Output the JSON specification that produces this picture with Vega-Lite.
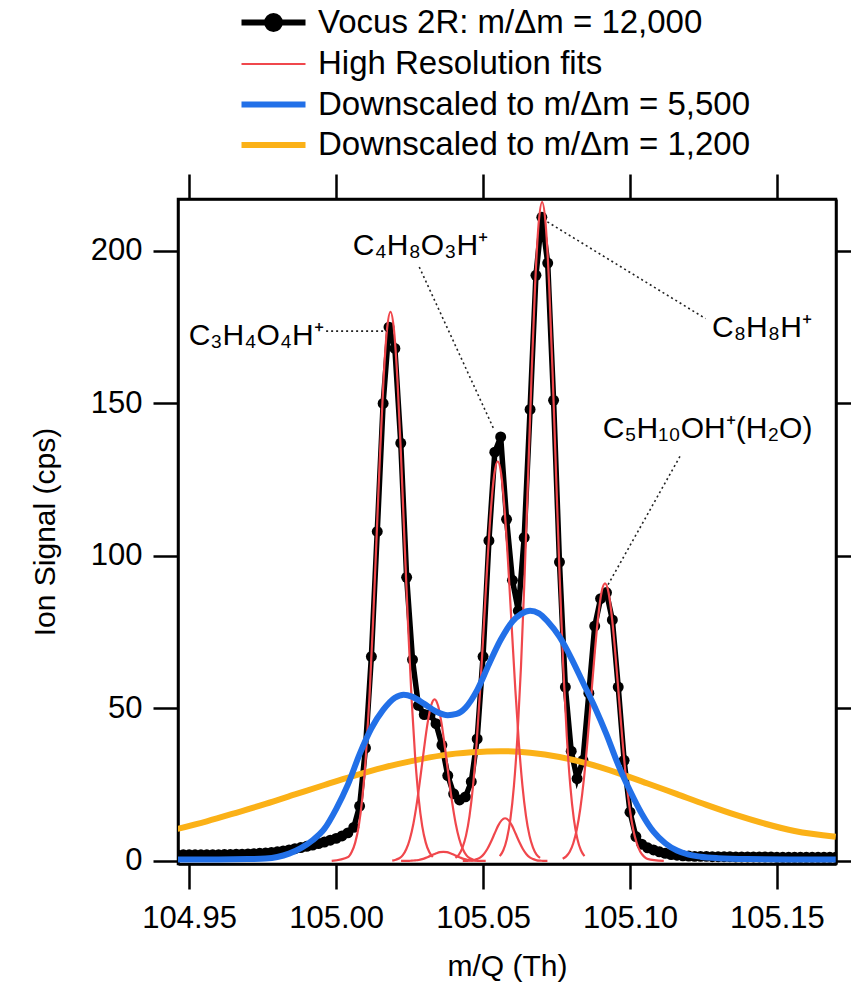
{
  "$schema": "https://vega.github.io/schema/vega-lite/v6.json",
  "width": 658,
  "height": 665,
  "autosize": "none",
  "padding": {"left": 178, "top": 199, "right": 15, "bottom": 127},
  "background": "white",
  "config": {
    "view": {"stroke": "black", "strokeWidth": 2.5},
    "font": "Liberation Sans",
    "axis": {
      "domainColor": "black", "domainWidth": 2.5,
      "tickColor": "black", "tickWidth": 2.5, "tickSize": 25,
      "labelFont": "Liberation Sans", "labelFontSize": 31, "labelColor": "black",
      "titleFont": "Liberation Sans", "titleFontSize": 30, "titleColor": "black", "titleFontWeight": "normal",
      "grid": false
    }
  },
  "datasets": {
    "vocus": [
      {"x":104.946,"y":2.0},{"x":104.948,"y":2.0},{"x":104.950,"y":2.0},{"x":104.952,"y":2.0},{"x":104.954,"y":2.0},
      {"x":104.956,"y":2.0},{"x":104.958,"y":2.0},{"x":104.960,"y":2.0},{"x":104.962,"y":2.1},{"x":104.964,"y":2.1},
      {"x":104.966,"y":2.2},{"x":104.968,"y":2.2},{"x":104.970,"y":2.3},{"x":104.972,"y":2.4},{"x":104.974,"y":2.5},
      {"x":104.976,"y":2.6},{"x":104.978,"y":2.8},{"x":104.980,"y":3.0},{"x":104.982,"y":3.3},{"x":104.984,"y":3.6},
      {"x":104.986,"y":4.0},{"x":104.988,"y":4.4},{"x":104.990,"y":4.8},{"x":104.992,"y":5.2},{"x":104.994,"y":5.7},
      {"x":104.996,"y":6.2},{"x":104.998,"y":6.8},{"x":105.000,"y":7.4},{"x":105.002,"y":8.2},{"x":105.004,"y":9.2},
      {"x":105.006,"y":11},{"x":105.008,"y":18},{"x":105.010,"y":37},{"x":105.012,"y":67},{"x":105.014,"y":108},
      {"x":105.016,"y":150},{"x":105.018,"y":175},{"x":105.020,"y":168},{"x":105.022,"y":137},{"x":105.024,"y":93},
      {"x":105.026,"y":66},{"x":105.028,"y":51},{"x":105.030,"y":48},{"x":105.032,"y":48},{"x":105.034,"y":45},
      {"x":105.036,"y":38},{"x":105.038,"y":28},{"x":105.040,"y":22},{"x":105.042,"y":20},{"x":105.044,"y":21},
      {"x":105.046,"y":26},{"x":105.048,"y":40},{"x":105.050,"y":67},{"x":105.052,"y":105},{"x":105.054,"y":134},
      {"x":105.056,"y":139},{"x":105.058,"y":112},{"x":105.060,"y":92},{"x":105.062,"y":82},{"x":105.064,"y":106},
      {"x":105.066,"y":148},{"x":105.068,"y":192},{"x":105.070,"y":211},{"x":105.072,"y":196},{"x":105.074,"y":151},
      {"x":105.076,"y":98},{"x":105.078,"y":57},{"x":105.080,"y":36},{"x":105.082,"y":27},{"x":105.084,"y":33},
      {"x":105.086,"y":55},{"x":105.088,"y":77},{"x":105.090,"y":86},{"x":105.092,"y":88},{"x":105.094,"y":79},
      {"x":105.096,"y":57},{"x":105.098,"y":33},{"x":105.100,"y":16},{"x":105.102,"y":8},{"x":105.104,"y":5.5},
      {"x":105.106,"y":4.3},{"x":105.108,"y":3.6},{"x":105.110,"y":3.0},{"x":105.112,"y":2.5},{"x":105.114,"y":2.1},
      {"x":105.116,"y":1.9},{"x":105.118,"y":1.7},{"x":105.120,"y":1.6},{"x":105.122,"y":1.5},{"x":105.124,"y":1.5},
      {"x":105.126,"y":1.5},{"x":105.128,"y":1.4},{"x":105.130,"y":1.4},{"x":105.132,"y":1.4},{"x":105.134,"y":1.4},
      {"x":105.136,"y":1.3},{"x":105.138,"y":1.3},{"x":105.140,"y":1.3},{"x":105.142,"y":1.3},{"x":105.144,"y":1.3},
      {"x":105.146,"y":1.3},{"x":105.148,"y":1.3},{"x":105.150,"y":1.2},{"x":105.152,"y":1.2},{"x":105.154,"y":1.2},
      {"x":105.156,"y":1.2},{"x":105.158,"y":1.2},{"x":105.160,"y":1.2},{"x":105.162,"y":1.2},{"x":105.164,"y":1.2},
      {"x":105.166,"y":1.2},{"x":105.168,"y":1.2},{"x":105.170,"y":1.2}
    ],
    "fits": [
      {"fit":"a","x":104.9985,"y":0},
      {"fit":"a","x":105.0041,"y":1.3},{"fit":"a","x":105.0053,"y":2.9},{"fit":"a","x":105.0065,"y":6.0},{"fit":"a","x":105.0077,"y":11.4},
      {"fit":"a","x":105.0089,"y":20.4},{"fit":"a","x":105.0101,"y":34.0},{"fit":"a","x":105.0113,"y":52.9},{"fit":"a","x":105.0125,"y":76.9},
      {"fit":"a","x":105.0137,"y":104.4},{"fit":"a","x":105.0149,"y":132.5},{"fit":"a","x":105.0161,"y":157.1},{"fit":"a","x":105.0173,"y":174.0},
      {"fit":"a","x":105.0185,"y":180},{"fit":"a","x":105.0197,"y":174.0},{"fit":"a","x":105.0209,"y":157.1},{"fit":"a","x":105.0221,"y":132.5},
      {"fit":"a","x":105.0233,"y":104.4},{"fit":"a","x":105.0245,"y":76.9},{"fit":"a","x":105.0257,"y":52.9},{"fit":"a","x":105.0269,"y":34.0},
      {"fit":"a","x":105.0281,"y":20.4},{"fit":"a","x":105.0293,"y":11.4},{"fit":"a","x":105.0305,"y":6.0},{"fit":"a","x":105.0317,"y":2.9},
      {"fit":"a","x":105.0329,"y":1.3},
      {"fit":"b","x":105.0191,"y":0.1},{"fit":"b","x":105.0203,"y":0.4},{"fit":"b","x":105.0215,"y":0.9},{"fit":"b","x":105.0227,"y":1.9},
      {"fit":"b","x":105.0239,"y":3.9},{"fit":"b","x":105.0251,"y":7.2},{"fit":"b","x":105.0263,"y":12.2},{"fit":"b","x":105.0275,"y":19.1},
      {"fit":"b","x":105.0287,"y":27.6},{"fit":"b","x":105.0299,"y":36.7},{"fit":"b","x":105.0311,"y":45.0},{"fit":"b","x":105.0323,"y":50.9},
      {"fit":"b","x":105.0335,"y":53},{"fit":"b","x":105.0347,"y":50.9},{"fit":"b","x":105.0359,"y":45.0},{"fit":"b","x":105.0371,"y":36.7},
      {"fit":"b","x":105.0383,"y":27.6},{"fit":"b","x":105.0395,"y":19.1},{"fit":"b","x":105.0407,"y":12.2},{"fit":"b","x":105.0419,"y":7.2},
      {"fit":"b","x":105.0431,"y":3.9},{"fit":"b","x":105.0443,"y":1.9},{"fit":"b","x":105.0455,"y":0.9},{"fit":"b","x":105.0467,"y":0.4},
      {"fit":"b","x":105.0479,"y":0.1},
      {"fit":"c","x":105.0221,"y":0},{"fit":"c","x":105.0233,"y":0},{"fit":"c","x":105.0245,"y":0},{"fit":"c","x":105.0257,"y":0.1},
      {"fit":"c","x":105.0269,"y":0.2},{"fit":"c","x":105.0281,"y":0.3},{"fit":"c","x":105.0293,"y":0.6},{"fit":"c","x":105.0305,"y":1.0},
      {"fit":"c","x":105.0317,"y":1.5},{"fit":"c","x":105.0329,"y":2.0},{"fit":"c","x":105.0341,"y":2.5},{"fit":"c","x":105.0353,"y":2.9},
      {"fit":"c","x":105.0365,"y":3},{"fit":"c","x":105.0377,"y":2.9},{"fit":"c","x":105.0389,"y":2.5},{"fit":"c","x":105.0401,"y":2.0},
      {"fit":"c","x":105.0413,"y":1.5},{"fit":"c","x":105.0425,"y":1.0},{"fit":"c","x":105.0437,"y":0.6},{"fit":"c","x":105.0449,"y":0.3},
      {"fit":"c","x":105.0461,"y":0.2},{"fit":"c","x":105.0473,"y":0.1},{"fit":"c","x":105.0485,"y":0},{"fit":"c","x":105.0497,"y":0},
      {"fit":"c","x":105.0509,"y":0},
      {"fit":"d","x":105.0406,"y":1.0},{"fit":"d","x":105.0418,"y":2.1},{"fit":"d","x":105.0430,"y":4.4},{"fit":"d","x":105.0442,"y":8.3},
      {"fit":"d","x":105.0454,"y":14.8},{"fit":"d","x":105.0466,"y":24.7},{"fit":"d","x":105.0478,"y":38.5},{"fit":"d","x":105.0490,"y":56.0},
      {"fit":"d","x":105.0502,"y":76.0},{"fit":"d","x":105.0514,"y":96.4},{"fit":"d","x":105.0526,"y":114.3},{"fit":"d","x":105.0538,"y":126.6},
      {"fit":"d","x":105.0550,"y":131},{"fit":"d","x":105.0562,"y":126.6},{"fit":"d","x":105.0574,"y":114.3},{"fit":"d","x":105.0586,"y":96.4},
      {"fit":"d","x":105.0598,"y":76.0},{"fit":"d","x":105.0610,"y":56.0},{"fit":"d","x":105.0622,"y":38.5},{"fit":"d","x":105.0634,"y":24.7},
      {"fit":"d","x":105.0646,"y":14.8},{"fit":"d","x":105.0658,"y":8.3},{"fit":"d","x":105.0670,"y":4.4},{"fit":"d","x":105.0682,"y":2.1},
      {"fit":"d","x":105.0694,"y":1.0},
      {"fit":"e","x":105.0431,"y":0},{"fit":"e","x":105.0443,"y":0},{"fit":"e","x":105.0455,"y":0.1},{"fit":"e","x":105.0467,"y":0.2},
      {"fit":"e","x":105.0479,"y":0.6},{"fit":"e","x":105.0491,"y":1.2},{"fit":"e","x":105.0503,"y":2.3},{"fit":"e","x":105.0515,"y":4.0},
      {"fit":"e","x":105.0527,"y":6.3},{"fit":"e","x":105.0539,"y":8.9},{"fit":"e","x":105.0551,"y":11.5},{"fit":"e","x":105.0563,"y":13.3},
      {"fit":"e","x":105.0575,"y":14},{"fit":"e","x":105.0587,"y":13.3},{"fit":"e","x":105.0599,"y":11.5},{"fit":"e","x":105.0611,"y":8.9},
      {"fit":"e","x":105.0623,"y":6.3},{"fit":"e","x":105.0635,"y":4.0},{"fit":"e","x":105.0647,"y":2.3},{"fit":"e","x":105.0659,"y":1.2},
      {"fit":"e","x":105.0671,"y":0.6},{"fit":"e","x":105.0683,"y":0.2},{"fit":"e","x":105.0695,"y":0.1},{"fit":"e","x":105.0707,"y":0},
      {"fit":"e","x":105.0719,"y":0},
      {"fit":"f","x":105.0557,"y":1.6},{"fit":"f","x":105.0569,"y":3.5},{"fit":"f","x":105.0581,"y":7.2},{"fit":"f","x":105.0593,"y":13.7},
      {"fit":"f","x":105.0605,"y":24.5},{"fit":"f","x":105.0617,"y":40.8},{"fit":"f","x":105.0629,"y":63.5},{"fit":"f","x":105.0641,"y":92.3},
      {"fit":"f","x":105.0653,"y":125.3},{"fit":"f","x":105.0665,"y":159.0},{"fit":"f","x":105.0677,"y":188.5},{"fit":"f","x":105.0689,"y":208.8},
      {"fit":"f","x":105.0701,"y":216},{"fit":"f","x":105.0713,"y":208.8},{"fit":"f","x":105.0725,"y":188.5},{"fit":"f","x":105.0737,"y":159.0},
      {"fit":"f","x":105.0749,"y":125.3},{"fit":"f","x":105.0761,"y":92.3},{"fit":"f","x":105.0773,"y":63.5},{"fit":"f","x":105.0785,"y":40.8},
      {"fit":"f","x":105.0797,"y":24.5},{"fit":"f","x":105.0809,"y":13.7},{"fit":"f","x":105.0821,"y":7.2},{"fit":"f","x":105.0833,"y":3.5},
      {"fit":"f","x":105.0845,"y":1.6},
      {"fit":"g","x":105.0771,"y":0.7},{"fit":"g","x":105.0783,"y":1.5},{"fit":"g","x":105.0795,"y":3.0},{"fit":"g","x":105.0807,"y":5.8},
      {"fit":"g","x":105.0819,"y":10.3},{"fit":"g","x":105.0831,"y":17.2},{"fit":"g","x":105.0843,"y":26.7},{"fit":"g","x":105.0855,"y":38.9},
      {"fit":"g","x":105.0867,"y":52.8},{"fit":"g","x":105.0879,"y":67.0},{"fit":"g","x":105.0891,"y":79.4},{"fit":"g","x":105.0903,"y":88.0},
      {"fit":"g","x":105.0915,"y":91},{"fit":"g","x":105.0927,"y":88.0},{"fit":"g","x":105.0939,"y":79.4},{"fit":"g","x":105.0951,"y":67.0},
      {"fit":"g","x":105.0963,"y":52.8},{"fit":"g","x":105.0975,"y":38.9},{"fit":"g","x":105.0987,"y":26.7},{"fit":"g","x":105.0999,"y":17.2},
      {"fit":"g","x":105.1011,"y":10.3},{"fit":"g","x":105.1023,"y":5.8},{"fit":"g","x":105.1035,"y":3.0},{"fit":"g","x":105.1047,"y":1.5},
      {"fit":"g","x":105.1059,"y":0.7},{"fit":"g","x":105.1115,"y":0}
    ],
    "blue": [
      {"x":104.946,"y":0.5},{"x":104.960,"y":0.5},{"x":104.970,"y":0.6},{"x":104.976,"y":0.8},{"x":104.980,"y":1.3},
      {"x":104.984,"y":2.4},{"x":104.988,"y":4.2},{"x":104.992,"y":6.8},{"x":104.996,"y":10.5},{"x":105.000,"y":17.0},
      {"x":105.004,"y":25.0},{"x":105.008,"y":35.0},{"x":105.012,"y":43.5},{"x":105.016,"y":49.5},{"x":105.020,"y":53.5},
      {"x":105.023,"y":54.5},{"x":105.026,"y":53.8},{"x":105.030,"y":51.5},{"x":105.034,"y":49.0},{"x":105.038,"y":47.8},
      {"x":105.041,"y":48.2},{"x":105.044,"y":50.2},{"x":105.048,"y":56.0},{"x":105.052,"y":64.5},{"x":105.056,"y":72.5},
      {"x":105.060,"y":78.5},{"x":105.063,"y":81.0},{"x":105.066,"y":82.0},{"x":105.069,"y":81.2},{"x":105.072,"y":78.5},
      {"x":105.076,"y":73.5},{"x":105.080,"y":66.5},{"x":105.084,"y":58.5},{"x":105.088,"y":50.5},{"x":105.092,"y":41.5},
      {"x":105.096,"y":31.5},{"x":105.100,"y":23.0},{"x":105.104,"y":15.5},{"x":105.108,"y":9.6},{"x":105.112,"y":5.8},
      {"x":105.116,"y":3.4},{"x":105.120,"y":2.1},{"x":105.124,"y":1.4},{"x":105.130,"y":0.9},{"x":105.140,"y":0.6},
      {"x":105.155,"y":0.5},{"x":105.170,"y":0.5}
    ],
    "orange": [
      {"x":104.946,"y":10.5},{"x":104.956,"y":13.0},{"x":104.966,"y":15.8},{"x":104.976,"y":18.7},{"x":104.986,"y":21.8},
      {"x":104.996,"y":24.9},{"x":105.006,"y":27.9},{"x":105.016,"y":30.6},{"x":105.026,"y":32.8},{"x":105.036,"y":34.6},
      {"x":105.046,"y":35.6},{"x":105.056,"y":36.0},{"x":105.066,"y":35.5},{"x":105.076,"y":34.1},{"x":105.086,"y":31.8},
      {"x":105.096,"y":28.8},{"x":105.106,"y":25.4},{"x":105.116,"y":21.9},{"x":105.126,"y":18.4},{"x":105.136,"y":15.1},
      {"x":105.146,"y":12.2},{"x":105.156,"y":9.8},{"x":105.170,"y":7.9}
    ],
    "labels": [
      {"label":"C₃H₄O₄H⁺","x":104.9728,"y":169},
      {"label":"C₄H₈O₃H⁺","x":105.0287,"y":198.6},
      {"label":"C₈H₈H⁺","x":105.1449,"y":171.8},
      {"label":"C₅H₁₀OH⁺(H₂O)","x":105.1264,"y":138.5}
    ],
    "leaders": [
      {"x":104.9966,"y":173.7,"x2":105.0172,"y2":173.7},
      {"x":105.0283,"y":194.7,"x2":105.0537,"y2":141.5},
      {"x":105.0719,"y":209.5,"x2":105.1257,"y2":177.8},
      {"x":105.1170,"y":132.6,"x2":105.0925,"y2":90.5}
    ]
  },
  "layer": [
    {
      "data": {"name": "vocus"},
      "mark": {"type": "line", "strokeWidth": 5.5, "clip": true, "point": {"filled": true, "size": 120, "opacity": 1}},
      "encoding": {
        "x": {"field": "x", "type": "quantitative",
              "scale": {"domain": [104.9462, 105.1701], "nice": false, "zero": false},
              "axis": {"orient": "bottom", "values": [104.95, 105.0, 105.05, 105.1, 105.15], "format": ".2f",
                       "title": "m/Q (Th)", "labelPadding": 14, "titlePadding": 18}},
        "y": {"field": "y", "type": "quantitative",
              "scale": {"domain": [-1, 217], "nice": false, "zero": false},
              "axis": {"orient": "left", "values": [0, 50, 100, 150, 200], "title": "Ion Signal (cps)",
                       "labelPadding": 11, "titlePadding": 30}},
        "color": {
          "datum": "Vocus 2R: m/Δm = 12,000",
          "type": "nominal",
          "scale": {
            "domain": ["Vocus 2R: m/Δm = 12,000", "High Resolution fits", "Downscaled to m/Δm = 5,500", "Downscaled to m/Δm = 1,200"],
            "range": ["#000000", "#f0474c", "#2270e8", "#fbb117"]
          },
          "legend": {
            "orient": "none", "legendX": 79, "legendY": -193, "title": null,
            "symbolType": "stroke", "symbolSize": 4096, "symbolStrokeWidth": 6,
            "labelFont": "Liberation Sans", "labelFontSize": 33, "labelColor": "black", "labelLimit": 0,
            "labelOffset": 28, "rowPadding": 6.5,
            "encode": {
              "symbols": {
                "update": {
                  "shape": {"signal": "datum.label === 'Vocus 2R: m/Δm = 12,000' ? 'M-1,0H1M-0.2,0A0.2,0.2,0,1,0,0.2,0A0.2,0.2,0,1,0,-0.2,0Z' : 'stroke'"},
                  "strokeWidth": {"signal": "datum.label === 'High Resolution fits' ? 2 : 6"},
                  "fill": {"signal": "datum.label === 'Vocus 2R: m/Δm = 12,000' ? 'black' : 'transparent'"}
                }
              }
            }
          }
        }
      }
    },
    {
      "data": {"name": "orange"},
      "mark": {"type": "line", "strokeWidth": 6, "interpolate": "monotone", "clip": true},
      "encoding": {
        "x": {"field": "x", "type": "quantitative", "axis": null},
        "y": {"field": "y", "type": "quantitative", "axis": null},
        "color": {"datum": "Downscaled to m/Δm = 1,200", "type": "nominal"}
      }
    },
    {
      "data": {"name": "fits"},
      "mark": {"type": "line", "strokeWidth": 2.2, "interpolate": "monotone", "clip": true},
      "encoding": {
        "x": {"field": "x", "type": "quantitative", "axis": null},
        "y": {"field": "y", "type": "quantitative", "axis": null},
        "detail": {"field": "fit"},
        "color": {"datum": "High Resolution fits", "type": "nominal"}
      }
    },
    {
      "data": {"name": "blue"},
      "mark": {"type": "line", "strokeWidth": 6, "interpolate": "monotone", "clip": true},
      "encoding": {
        "x": {"field": "x", "type": "quantitative", "axis": null},
        "y": {"field": "y", "type": "quantitative", "axis": null},
        "color": {"datum": "Downscaled to m/Δm = 5,500", "type": "nominal"}
      }
    },
    {
      "data": {"name": "leaders"},
      "mark": {"type": "rule", "strokeDash": [2, 3], "strokeWidth": 1.6, "color": "#222222"},
      "encoding": {
        "x": {"field": "x", "type": "quantitative", "axis": null},
        "y": {"field": "y", "type": "quantitative", "axis": null},
        "x2": {"field": "x2"},
        "y2": {"field": "y2"}
      }
    },
    {
      "data": {"name": "labels"},
      "mark": {"type": "text", "font": "Liberation Sans", "fontSize": 30, "align": "center", "baseline": "alphabetic", "color": "black"},
      "encoding": {
        "x": {"field": "x", "type": "quantitative",
              "axis": {"orient": "top", "values": [104.95, 105.0, 105.05, 105.1, 105.15], "labels": false, "title": null}},
        "y": {"field": "y", "type": "quantitative",
              "axis": {"orient": "right", "values": [0, 50, 100, 150, 200], "labels": false, "title": null}},
        "text": {"field": "label"}
      }
    }
  ],
  "resolve": {"axis": {"x": "independent", "y": "independent"}}
}
